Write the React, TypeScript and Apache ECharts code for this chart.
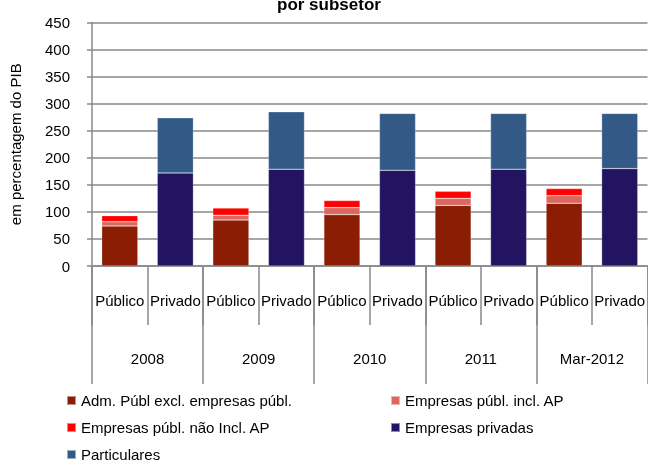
import React, { useEffect, useRef } from "react";
import * as echarts from "echarts";

const subCategories = ["Público", "Privado", "Público", "Privado", "Público", "Privado", "Público", "Privado", "Público", "Privado"];
const years = ["2008", "2009", "2010", "2011", "Mar-2012"];
const yTicks = [0, 50, 100, 150, 200, 250, 300, 350, 400, 450];

// Público stacks (one value per year)
const admPubl = [74, 85, 95, 112, 116];
const empInclAP = [8, 9, 13, 13, 14];
const empNaoInclAP = [11, 13, 13, 13, 13];
// Privado stacks
const empPrivadas = [172, 179, 177, 179, 180];
const particulares = [102, 106, 105, 103, 102];

const seriesNames = [
  "Adm. Públ excl. empresas públ.",
  "Empresas públ. incl. AP",
  "Empresas públ. não Incl. AP",
  "Empresas privadas",
  "Particulares",
];
const colors = ["#8B1D04", "#DC675E", "#FF0000", "#221461", "#335A86"];

const FONT = "Liberation Sans, Arial, sans-serif";

function toPublico(arr: number[]) {
  const out: (number | string)[] = [];
  arr.forEach((v) => {
    out.push(v);
    out.push("-");
  });
  return out;
}
function toPrivado(arr: number[]) {
  const out: (number | string)[] = [];
  arr.forEach((v) => {
    out.push("-");
    out.push(v);
  });
  return out;
}

// legend slots: [series index, left, top]
const legendSlots: [number, number, number][] = [
  [0, 66, 393],
  [1, 390, 393],
  [2, 66, 420],
  [3, 390, 420],
  [4, 66, 447],
];

export default function App() {
  const ref = useRef<HTMLDivElement>(null);
  useEffect(() => {
    const chart = echarts.init(ref.current!, undefined, { renderer: "svg" });
    const dataSets = [
      toPublico(admPubl),
      toPublico(empInclAP),
      toPublico(empNaoInclAP),
      toPrivado(empPrivadas),
      toPrivado(particulares),
    ];
    chart.setOption({
      animation: false,
      textStyle: { fontFamily: FONT },
      grid: { left: 91, top: 22.5, width: 558, height: 243.5 },
      graphic: [
        {
          type: "text",
          left: 277,
          top: -4,
          style: {
            text: "por subsetor",
            font: "bold 17px " + FONT,
            fill: "#000",
          },
        },
      ],
      legend: legendSlots.map(([si, left, top]) => ({
        left,
        top,
        padding: 0,
        itemWidth: 9,
        itemHeight: 9,
        icon: "rect",
        data: [seriesNames[si]],
        textStyle: { fontSize: 15, color: "#000", fontFamily: FONT },
      })),
      xAxis: [
        {
          type: "category",
          data: subCategories,
          position: "bottom",
          axisLine: { show: true, lineStyle: { color: "#888", width: 1.5 } },
          axisTick: { show: true, length: 59, interval: 0, lineStyle: { color: "#888", width: 1.5 } },
          axisLabel: { interval: 0, fontSize: 15, color: "#000", margin: 27, fontFamily: FONT },
        },
        {
          type: "category",
          data: years,
          position: "bottom",
          axisLine: { show: false },
          axisTick: { show: true, length: 118, interval: 0, lineStyle: { color: "#888", width: 1.5 } },
          axisLabel: { interval: 0, fontSize: 15, color: "#000", margin: 85, fontFamily: FONT },
        },
      ],
      yAxis: {
        type: "value",
        min: yTicks[0],
        max: yTicks[yTicks.length - 1],
        interval: 50,
        name: "em percentagem do PIB",
        nameLocation: "middle",
        nameGap: 69,
        nameTextStyle: { fontSize: 15, color: "#000", fontFamily: FONT },
        axisLine: { show: true, lineStyle: { color: "#888", width: 1.5 } },
        axisTick: { show: true, length: 5, lineStyle: { color: "#888", width: 1.5 } },
        axisLabel: { fontSize: 15, color: "#000", margin: 22, fontFamily: FONT },
        splitLine: { show: true, lineStyle: { color: "#888", width: 1.5 } },
      },
      series: seriesNames.map((name, i) => ({
        name,
        type: "bar",
        stack: "total",
        xAxisIndex: 0,
        barCategoryGap: "35%",
        data: dataSets[i],
        itemStyle: { color: colors[i], borderColor: "rgba(255,255,255,0.5)", borderWidth: 0.5 },
      })),
    });
    return () => chart.dispose();
  }, []);
  return <div ref={ref} style={{ position: "fixed", left: 0, top: 0, width: 648, height: 464 }} />;
}
